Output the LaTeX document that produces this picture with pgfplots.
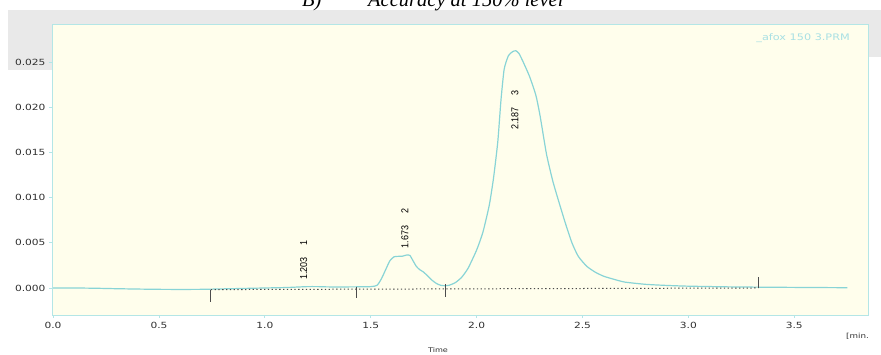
\documentclass[border=0pt]{standalone}
\usepackage{pgfplots}
\pgfplotsset{compat=1.18}
\usepackage{fontspec}
\setmainfont{Liberation Serif}
\newfontfamily\tickfont[FakeStretch=1.25]{DejaVu Sans}
\newfontfamily\labfont[FakeStretch=0.9]{Liberation Sans}
\definecolor{bgcol}{HTML}{FFFEEC}
\definecolor{curvecol}{HTML}{88D4D6}
\definecolor{boxcol}{HTML}{B4E6E6}
\definecolor{graycol}{HTML}{E9E9E9}
\definecolor{tickcol}{HTML}{303030}
\definecolor{filecol}{HTML}{A8E0E4}
\begin{document}
\begin{tikzpicture}[x=1pt,y=1pt]
\useasboundingbox (0,0) rectangle (881,354);
% grey header band of the screenshot
\fill[graycol] (8,284) rectangle (52,344);
\fill[graycol] (8,297) rectangle (881,344);
% title, cut off at the top edge as in the screenshot
\node[anchor=base west,inner sep=0,font=\fontsize{20.5}{22}\selectfont\itshape] at (302,347) {B)};
\node[anchor=base west,inner sep=0,font=\fontsize{20.5}{22}\selectfont\itshape] at (368,347) {Accuracy at 150\% level};
\begin{axis}[
  at={(52pt,39pt)}, anchor=south west,
  scale only axis, width=816pt, height=290pt,
  xmin=-0.005, xmax=3.848, ymin=-0.00299, ymax=0.0291,
  axis background/.style={fill=bgcol},
  axis line style={draw=boxcol, line width=1pt},
  tick pos=left, tick align=outside,
  major tick length=3pt,
  every tick/.style={draw=boxcol, line width=0.8pt},
  xtick={0,0.5,1,1.5,2,2.5,3,3.5},
  xticklabels={0.0,0.5,1.0,1.5,2.0,2.5,3.0,3.5},
  ytick={0,0.005,0.01,0.015,0.02,0.025},
  yticklabels={0.000,0.005,0.010,0.015,0.020,0.025},
  scaled ticks=false,
  tick label style={font=\tickfont\fontsize{8.5}{9}\selectfont, text=tickcol},
  xticklabel style={yshift=-1pt},
  clip=false,
]
\addplot[curvecol, line width=1.2pt, smooth, tension=0.35] coordinates {
(0.00,0.00000) (0.10,0.00000) (0.20,-0.00003) (0.30,-0.00008) (0.40,-0.00012)
(0.50,-0.00015) (0.60,-0.00016) (0.70,-0.00015) (0.80,-0.00010) (0.90,-0.00005)
(1.00,0.00000) (1.10,0.00005) (1.15,0.00010) (1.20,0.00015) (1.25,0.00015)
(1.30,0.00012) (1.40,0.00012) (1.50,0.00015) (1.53,0.00030) (1.55,0.00100)
(1.57,0.00200) (1.59,0.00300) (1.61,0.00345) (1.63,0.00350) (1.65,0.00352)
(1.67,0.00365) (1.685,0.00360) (1.70,0.00300) (1.715,0.00240) (1.73,0.00205)
(1.75,0.00175) (1.77,0.00130) (1.79,0.00085) (1.81,0.00050) (1.83,0.00030)
(1.85,0.00025) (1.87,0.00030) (1.90,0.00060) (1.93,0.00120) (1.96,0.00220)
(2.00,0.00420) (2.03,0.00620) (2.06,0.00920) (2.08,0.01220) (2.10,0.01620)
(2.115,0.02080) (2.13,0.02420) (2.15,0.02570) (2.17,0.02615) (2.185,0.02625)
(2.20,0.02595) (2.22,0.02500) (2.25,0.02340) (2.28,0.02130) (2.30,0.01900)
(2.33,0.01480) (2.36,0.01180) (2.39,0.00940) (2.42,0.00710) (2.45,0.00500)
(2.48,0.00350) (2.52,0.00240) (2.56,0.00175) (2.60,0.00130) (2.65,0.00095)
(2.70,0.00065) (2.80,0.00040) (2.90,0.00028) (3.00,0.00020) (3.20,0.00012)
(3.40,0.00008) (3.60,0.00005) (3.75,0.00003)
};
% integration baseline
\addplot[black!70, line width=1pt, dash pattern=on 1.3pt off 2.5pt] coordinates {(0.745,-0.00018) (3.33,0.0)};
% peak boundary marks
\addplot[black!70, line width=0.7pt] coordinates {(0.745,-0.00022) (0.745,-0.00155)};
\addplot[black!70, line width=0.7pt] coordinates {(1.43,0.00010) (1.43,-0.00110)};
\addplot[black!70, line width=0.7pt] coordinates {(1.85,0.00044) (1.85,-0.00100)};
\addplot[black!70, line width=0.7pt] coordinates {(3.33,0.00120) (3.33,0.00000)};
% peak labels
\node[rotate=90, anchor=west, inner sep=0, font=\labfont\fontsize{10}{11}\selectfont] at (axis cs:1.183,0.0009) {1.203\hspace{12pt}1};
\node[rotate=90, anchor=west, inner sep=0, font=\labfont\fontsize{10}{11}\selectfont] at (axis cs:1.662,0.0044) {1.673\hspace{12pt}2};
\node[rotate=90, anchor=west, inner sep=0, font=\labfont\fontsize{10}{11}\selectfont] at (axis cs:2.181,0.0175) {2.187\hspace{12pt}3};
\end{axis}
\node[anchor=east, inner sep=0, text=filecol, font=\tickfont\fontsize{9}{10}\selectfont] at (850,316) {\_afox 150 3.PRM};
\node[inner sep=0, text=tickcol, font=\tickfont\fontsize{6.5}{7}\selectfont] at (438,4) {Time};
\node[anchor=west, inner sep=0, text=tickcol, font=\tickfont\fontsize{7}{8}\selectfont] at (846,18) {[min.};
\end{tikzpicture}
\end{document}
